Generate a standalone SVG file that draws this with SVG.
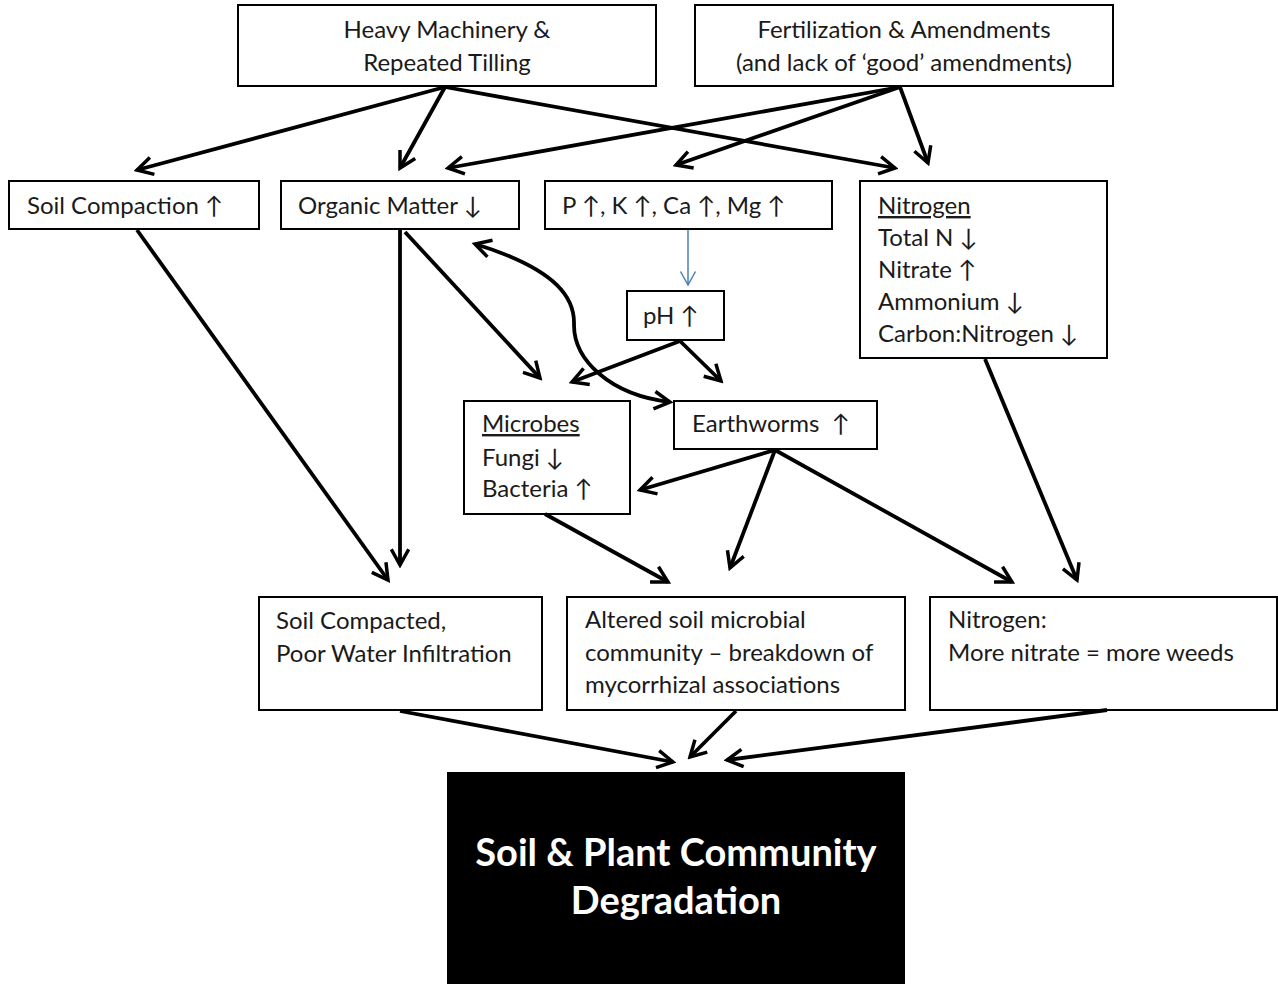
<svg xmlns="http://www.w3.org/2000/svg" width="1278" height="987" viewBox="0 0 1278 987">
<style>
.box{fill:#fff;stroke:#000;stroke-width:2}
.t{font-family:Lato,"Liberation Sans","DejaVu Sans",sans-serif;font-size:24px;fill:#1a1a1a}
.c{text-anchor:middle}
.u{text-decoration:underline}
.big{font-family:Lato,"Liberation Sans",sans-serif;font-size:38px;font-weight:bold;fill:#fff;text-anchor:middle}
.a{fill:none;stroke:#000;stroke-width:3.8;marker-end:url(#ah)}
</style>
<defs>
<marker id="ah" viewBox="0 0 12 12" refX="10" refY="6" markerWidth="5.5" markerHeight="5.5" orient="auto" markerUnits="strokeWidth">
<path d="M1,1 L10,6 L1,11" fill="none" stroke="#000" stroke-width="2"/>
</marker>
<marker id="ahs" viewBox="0 0 12 12" refX="2" refY="6" markerWidth="5.5" markerHeight="5.5" orient="auto" markerUnits="strokeWidth">
<path d="M11,1 L2,6 L11,11" fill="none" stroke="#000" stroke-width="2"/>
</marker>
<marker id="ahb" viewBox="0 0 12 12" refX="10" refY="6" markerWidth="12" markerHeight="12" orient="auto" markerUnits="strokeWidth">
<path d="M1,1 L10,6 L1,11" fill="none" stroke="#4a7fb5" stroke-width="1"/>
</marker>
</defs>
<rect width="1278" height="987" fill="#fff"/>

<g id="heavy">
<rect class="box" x="238" y="5" width="418" height="81"/>
<text class="t c" x="447" y="38">Heavy Machinery &amp;</text>
<text class="t c" x="447" y="71">Repeated Tilling</text>
</g>
<g id="fert">
<rect class="box" x="695" y="5" width="418" height="81"/>
<text class="t c" x="904" y="38">Fertilization &amp; Amendments</text>
<text class="t c" x="904" y="71">(and lack of ‘good’ amendments)</text>
</g>
<g id="compaction">
<rect class="box" x="9" y="181" width="250" height="48"/>
<text class="t" x="27" y="214">Soil Compaction ↑</text>
</g>
<g id="organic">
<rect class="box" x="281" y="181" width="238" height="48"/>
<text class="t" x="298" y="214">Organic Matter ↓</text>
</g>
<g id="pk">
<rect class="box" x="545" y="181" width="287" height="48"/>
<text class="t" x="562" y="214">P ↑, K ↑, Ca ↑, Mg ↑</text>
</g>
<g id="nitrogen">
<rect class="box" x="860" y="181" width="247" height="177"/>
<text class="t u" x="878" y="214">Nitrogen</text>
<text class="t" x="878" y="246">Total N ↓</text>
<text class="t" x="878" y="278">Nitrate ↑</text>
<text class="t" x="878" y="310">Ammonium ↓</text>
<text class="t" x="878" y="342">Carbon:Nitrogen ↓</text>
</g>
<g id="ph">
<rect class="box" x="627" y="291" width="97" height="49"/>
<text class="t" x="643" y="324">pH ↑</text>
</g>
<g id="microbes">
<rect class="box" x="464" y="401" width="166" height="113"/>
<text class="t u" x="482" y="432">Microbes</text>
<text class="t" x="482" y="466">Fungi ↓</text>
<text class="t" x="482" y="497">Bacteria ↑</text>
</g>
<g id="earthworms">
<rect class="box" x="674" y="401" width="203" height="48"/>
<text class="t" x="692" y="432" xml:space="preserve">Earthworms  ↑</text>
</g>
<g id="soilcompacted">
<rect class="box" x="259" y="597" width="283" height="113"/>
<text class="t" x="276" y="629">Soil Compacted,</text>
<text class="t" x="276" y="662">Poor Water Infiltration</text>
</g>
<g id="altered">
<rect class="box" x="567" y="597" width="338" height="113"/>
<text class="t" x="585" y="628">Altered soil microbial</text>
<text class="t" x="585" y="661">community – breakdown of</text>
<text class="t" x="585" y="693">mycorrhizal associations</text>
</g>
<g id="nitrogen2">
<rect class="box" x="930" y="597" width="347" height="113"/>
<text class="t" x="948" y="628">Nitrogen:</text>
<text class="t" x="948" y="661">More nitrate = more weeds</text>
</g>
<g id="degradation">
<rect x="447" y="772" width="458" height="212" fill="#000"/>
<text class="big" x="676" y="866">Soil &amp; Plant Community</text>
<text class="big" x="676" y="914">Degradation</text>
</g>

<g id="connectors">
<line class="a" x1="445" y1="87" x2="137" y2="170"/>
<line class="a" x1="445" y1="87" x2="400" y2="168"/>
<line class="a" x1="445" y1="87" x2="895" y2="168"/>
<line class="a" x1="900" y1="87" x2="448" y2="168"/>
<line class="a" x1="900" y1="87" x2="676" y2="165"/>
<line class="a" x1="900" y1="87" x2="928" y2="163"/>
<line class="a" x1="137" y1="230" x2="388" y2="580"/>
<line class="a" x1="400" y1="230" x2="400" y2="565"/>
<line class="a" x1="405" y1="232" x2="540" y2="378"/>
<path class="a" d="M475,244 C560,270 575,300 574,325 C574,360 610,395 670,402" marker-start="url(#ahs)"/>
<line x1="688" y1="230" x2="688" y2="285" stroke="#4a7fb5" stroke-width="1.5" marker-end="url(#ahb)"/>
<line class="a" x1="680" y1="341" x2="572" y2="382"/>
<line class="a" x1="680" y1="341" x2="721" y2="381"/>
<line class="a" x1="775" y1="450" x2="640" y2="490"/>
<line class="a" x1="775" y1="450" x2="730" y2="568"/>
<line class="a" x1="775" y1="450" x2="1012" y2="582"/>
<line class="a" x1="545" y1="514" x2="668" y2="582"/>
<line class="a" x1="985" y1="359" x2="1077" y2="580"/>
<line class="a" x1="400" y1="711" x2="673" y2="762"/>
<line class="a" x1="736" y1="711" x2="690" y2="757"/>
<line class="a" x1="1107" y1="710" x2="727" y2="760"/>
</g>
</svg>
